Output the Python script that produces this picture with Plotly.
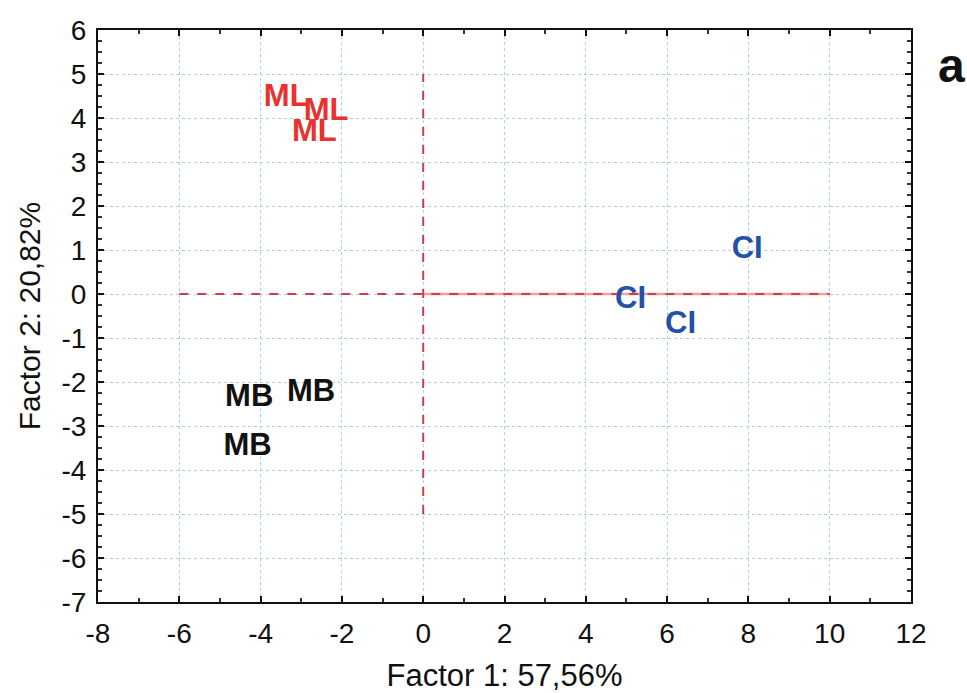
import plotly.graph_objects as go

# Data (scores)
ml_x = [-3.37, -2.39, -2.68]
ml_y = [4.44, 4.14, 3.65]
mb_x = [-4.28, -2.76, -4.32]
mb_y = [-2.37, -2.26, -3.48]
ci_x = [7.97, 5.10, 6.33]
ci_y = [0.99, -0.14, -0.71]

# Reference lines
h_line_x = [-6, 10]
h_line_y = [0, 0]
h_solid_x = [0, 10]
h_solid_y = [0, 0]
v_line_x = [0, 0]
v_line_y = [-5, 5]

# Tick labels (hyphen-minus as in the reference)
x_tickvals = [-8, -6, -4, -2, 0, 2, 4, 6, 8, 10, 12]
x_ticktext = ["-8", "-6", "-4", "-2", "0", "2", "4", "6", "8", "10", "12"]
y_tickvals = [-7, -6, -5, -4, -3, -2, -1, 0, 1, 2, 3, 4, 5, 6]
y_ticktext = ["-7", "-6", "-5", "-4", "-3", "-2", "-1", "0", "1", "2", "3", "4", "5", "6"]

x_title = "Factor 1: 57,56%"
y_title = "Factor 2: 20,82%"

FONT = "Liberation Sans, Arial, sans-serif"

fig = go.Figure()

fig.add_trace(go.Scatter(x=h_solid_x, y=h_solid_y, mode="lines",
                         line=dict(color="#f0a0a0", width=2.5), hoverinfo="skip"))
fig.add_trace(go.Scatter(x=h_line_x, y=h_line_y, mode="lines",
                         line=dict(color="#c8404a", width=2, dash="dash"), hoverinfo="skip"))
fig.add_trace(go.Scatter(x=v_line_x, y=v_line_y, mode="lines",
                         line=dict(color="#c8404a", width=2, dash="dash"), hoverinfo="skip"))

for xs, ys, lab, col in [(ml_x, ml_y, "ML", "#e8322f"),
                         (mb_x, mb_y, "MB", "#111111"),
                         (ci_x, ci_y, "CI", "#2350a8")]:
    fig.add_trace(go.Scatter(
        x=xs, y=ys, mode="text", text=[lab] * len(xs),
        textposition="middle center",
        textfont=dict(family=FONT, size=31, color=col, weight="bold"),
    ))

axis_common = dict(
    showline=True, linecolor="#111111", linewidth=2, mirror="ticks",
    ticks="inside", ticklen=6, tickwidth=2, tickcolor="#111111",
    showgrid=True, gridcolor="#a9d0e3", griddash="dot", gridwidth=1,
    zeroline=False, automargin=False,
    tickfont=dict(family=FONT, size=28, color="#111111"),
)

fig.update_xaxes(
    range=[-8, 12], tickmode="array", tickvals=x_tickvals, ticktext=x_ticktext,
    minor=dict(dtick=1, tick0=-8, ticks="inside", ticklen=4, tickcolor="#333333", showgrid=False),
    title=dict(text=x_title, font=dict(family=FONT, size=31, color="#111111"), standoff=22),
    ticklabelstandoff=5,
    **axis_common,
)
fig.update_yaxes(
    range=[-7, 6], tickmode="array", tickvals=y_tickvals, ticktext=y_ticktext,
    minor=dict(dtick=0.25, tick0=-7, ticks="inside", ticklen=4, tickcolor="#333333", showgrid=False),
    title=dict(text=y_title, font=dict(family=FONT, size=30, color="#111111"), standoff=12),
    ticklabelstandoff=4,
    **axis_common,
)

fig.add_annotation(
    text="a", xref="paper", yref="paper", x=1.050, y=0.938,
    showarrow=False, xanchor="center", yanchor="middle",
    font=dict(family=FONT, size=48, color="#111111", weight="bold"),
)

fig.update_layout(
    width=967, height=693,
    margin=dict(l=98, r=56, t=30, b=91),
    paper_bgcolor="white", plot_bgcolor="white",
    showlegend=False,
)

fig.write_html("out.html")
